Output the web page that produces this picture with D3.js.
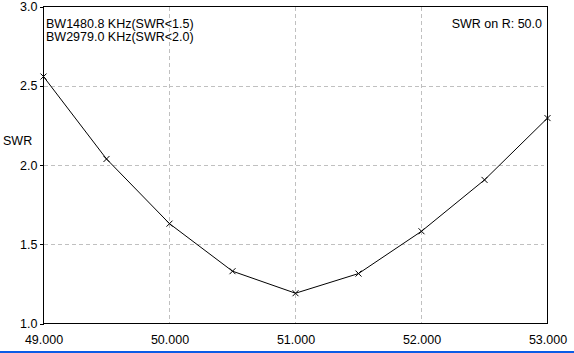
<!DOCTYPE html>
<html>
<head>
<meta charset="utf-8">
<script src="https://cdn.jsdelivr.net/npm/d3@7"></script>
<style>
    body { margin: 0; background: #fff; }
    svg { display: block; }
    text { font-family: "Liberation Sans", Arial, sans-serif; font-size: 12.5px; fill: #000; }
</style>
</head>
<body>
<div class="chart"></div>
<script>
// data
const freqs = [49.0, 49.5, 50.0, 50.5, 51.0, 51.5, 52.0, 52.5, 53.0];
const swrValues = [2.558, 2.038, 1.630, 1.330, 1.191, 1.315, 1.582, 1.906, 2.296];
const xTicks = [49, 50, 51, 52, 53];
const yTicks = [1.0, 1.5, 2.0, 2.5, 3.0];
const infoLines = ['BW1480.8 KHz(SWR<1.5)', 'BW2979.0 KHz(SWR<2.0)'];
const cornerText = 'SWR on R: 50.0';
const yLabel = 'SWR';

const width = 574, height = 353;
const svg = d3.select('.chart').append('svg')
    .attr('width', width).attr('height', height);

const xScale = d3.scaleLinear().domain([49, 53]).range([43.5, 547.5]);
const yScale = d3.scaleLinear().domain([1, 3]).range([323.5, 6.5]);

// grid
const grid = svg.append('g').attr('class', 'grid')
    .attr('stroke', '#c0c0c0').attr('stroke-dasharray', '4,3')
    .attr('shape-rendering', 'crispEdges');
grid.selectAll('.vgrid').data(xTicks.slice(1, -1)).join('line')
    .attr('class', 'vgrid')
    .attr('x1', d => xScale(d)).attr('x2', d => xScale(d))
    .attr('y1', yScale(3)).attr('y2', yScale(1));
grid.selectAll('.hgrid').data(yTicks.slice(1, -1)).join('line')
    .attr('class', 'hgrid')
    .attr('x1', xScale(49)).attr('x2', xScale(53) - 4)
    .attr('y1', d => Math.round(yScale(d)) + 0.5).attr('y2', d => Math.round(yScale(d)) + 0.5);

// frame
svg.append('rect')
    .attr('x', xScale(49)).attr('y', yScale(3))
    .attr('width', xScale(53) - xScale(49)).attr('height', yScale(1) - yScale(3))
    .attr('fill', 'none').attr('stroke', '#000')
    .attr('shape-rendering', 'crispEdges');

// axes: labels only, small ticks on y
const xAxis = d3.axisBottom(xScale).tickValues(xTicks).tickSize(0).tickPadding(12)
    .tickFormat(d3.format('.3f'));
svg.append('g').attr('class', 'x axis')
    .attr('transform', `translate(0,${yScale(1)})`)
    .call(xAxis)
    .call(g => g.select('.domain').remove());

const yAxis = d3.axisLeft(yScale).tickValues(yTicks).tickSize(4).tickPadding(2)
    .tickFormat(d3.format('.1f'));
svg.append('g').attr('class', 'y axis')
    .attr('transform', `translate(${xScale(49)},0)`)
    .call(yAxis)
    .call(g => g.select('.domain').remove())
    .call(g => g.selectAll('line').attr('shape-rendering', 'crispEdges'));

svg.selectAll('.axis text')
    .style('font-family', '"Liberation Sans", Arial, sans-serif')
    .style('font-size', '12.5px').attr('fill', '#000');

// curve
const points = freqs.map((f, i) => [f, swrValues[i]]);
const line = d3.line().x(d => xScale(d[0])).y(d => yScale(d[1]));
svg.append('path').datum(points)
    .attr('d', line)
    .attr('fill', 'none').attr('stroke', '#000').attr('stroke-width', 1);

// x markers
svg.selectAll('.marker').data(points).join('path')
    .attr('class', 'marker')
    .attr('d', d => {
        const cx = xScale(d[0]), cy = yScale(d[1]), r = 3;
        return `M${cx - r},${cy - r}L${cx + r},${cy + r}M${cx - r},${cy + r}L${cx + r},${cy - r}`;
    })
    .attr('stroke', '#000').attr('stroke-width', 1);

// texts
svg.selectAll('.info').data(infoLines).join('text')
    .attr('class', 'info')
    .attr('x', 46).attr('y', (d, i) => 28 + i * 13)
    .text(d => d);
svg.append('text')
    .attr('x', 542).attr('y', 28).attr('text-anchor', 'end')
    .text(cornerText);
svg.append('text')
    .attr('x', 3).attr('y', 145)
    .text(yLabel);

// blue strip at the bottom edge
svg.append('rect')
    .attr('x', 0).attr('y', 351).attr('width', width).attr('height', 2)
    .attr('fill', '#0a5ce6');
</script>
</body>
</html>
